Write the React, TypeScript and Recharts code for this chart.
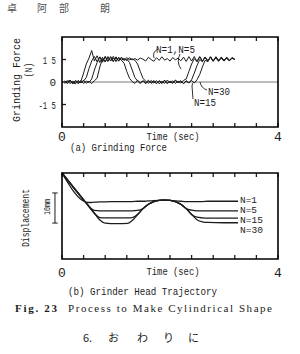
import React from "react";
import { LineChart, Line, XAxis, YAxis, ReferenceLine } from "recharts";

// shared axis ticks
const timeTicks = [0, 0.4, 0.8, 1.2, 1.6, 2, 2.4, 2.8, 3.2, 3.6, 4];
const forceTicks = [-15, 0, 15];

// (a) grinding force, sampled every 0.05 s
const forceTime = [
  0.05, 0.1, 0.15, 0.2, 0.25, 0.3, 0.35, 0.4,
  0.45, 0.5, 0.55, 0.6, 0.65, 0.7, 0.75, 0.8,
  0.85, 0.9, 0.95, 1.0, 1.05, 1.1, 1.15, 1.2,
  1.25, 1.3, 1.35, 1.4, 1.45, 1.5, 1.55, 1.6,
  1.65, 1.7, 1.75, 1.8, 1.85, 1.9, 1.95, 2.0,
  2.05, 2.1, 2.15, 2.2, 2.25, 2.3, 2.35, 2.4,
  2.45, 2.5, 2.55, 2.6, 2.65, 2.7, 2.75, 2.8,
  2.85, 2.9, 2.95, 3.0, 3.05, 3.1, 3.15, 3.2,
];
const forceN1 = [
  0.5, -1.0, 1.2, -0.6, 0.8, -1.2, 0.4, 6,
  12, 16, 21, 14, 17.5, 13, 16.5, 13.5,
  17, 14, 16, 13.8, 16.4, 14.5, 15.8, 14.2,
  16.2, 14.8, 15.6, 14.6, 16.0, 15.2, 14.0, 16.5,
  15.0, 13.8, 16.2, 14.4, 16.8, 14.6, 15.6, 13.9,
  16.3, 14.8, 15.9, 14.1, 16.6, 13.7, 16.9, 14.0,
  17.0, 13.5, 16.8, 13.8, 16.5, 14.2, 16.7, 13.9,
  16.2, 14.4, 16.0, 14.1, 16.3, 14.6, 15.8, 15.0,
];
const forceN5 = [
  -0.4, 0.9, -1.1, 0.6, -0.8, 1.1, -0.5, 0.7,
  3, 9, 14, 17, 13.5, 16.8, 14, 16.5,
  13.6, 17, 14.2, 16.1, 13.9, 16.6, 14.5, 16.2,
  14.8, 15.4, 14.5, 12, 7, 2.5, 0.5, -0.8,
  1.0, -0.6, 0.9, -1.2, 0.4, -0.9, 1.3, -0.5,
  0.8, -1.0, 0.6, -0.7, 1.1, 2, 7, 12,
  15.5, 13.8, 16.9, 14.1, 16.4, 13.7, 16.8, 14.3,
  16.1, 13.9, 16.5, 14.4, 15.9, 14.0, 16.2, 15.1,
];
const forceN15 = [
  0.8, -0.7, 0.5, -1.3, 1.0, -0.4, 0.9, -1.0,
  0.6, -0.3, 2, 8, 13, 16.5, 13.2, 17.2,
  14, 16.4, 13.5, 16.8, 14.3, 15.9, 14.6, 15.2,
  13, 8, 3, 0.6, -1.0, 0.8, -0.5, 1.2,
  -0.9, 0.4, -1.1, 0.9, -0.3, 1.0, -1.2, 0.6,
  -0.7, 1.3, -0.4, 0.8, -1.0, 0.5, -0.6, 1.5,
  6, 11, 15, 13.6, 16.7, 14.2, 16.4, 13.8,
  16.9, 14.5, 15.8, 13.9, 16.6, 14.3, 16.0, 14.9,
];
const forceN30 = [
  -0.9, 0.4, 1.1, -0.5, -1.2, 0.7, -0.3, 1.0,
  -0.8, 0.5, -1.1, 0.9, 2.5, 10, 15.5, 13.4,
  16.6, 14.1, 17.1, 13.7, 16.2, 14.6, 12.5, 7,
  2.5, 0.3, -0.9, 1.1, -0.5, 0.8, -1.2, 0.6,
  -0.4, 1.0, -0.8, 0.5, -1.1, 1.2, -0.6, 0.3,
  -0.9, 1.1, -0.4, 0.7, -1.2, 0.9, -0.5, 1.0,
  -0.7, 1.5, 5, 10, 14.5, 13.6, 16.8, 14.0,
  16.3, 13.8, 16.7, 14.4, 15.9, 14.2, 16.4, 15.0,
];

// (b) grinder head trajectory, displacement in mm (0 = start)
const trajTime = [0, 0.43, 0.5, 0.6, 0.7, 0.8, 1.0, 1.22, 1.3, 1.4, 1.5, 1.6, 1.7, 1.8, 1.9, 2.0, 2.1, 2.2, 2.3, 2.4, 2.5, 2.6, 2.7, 3.0, 3.26];
const trajN1 = [0, -9.4, -9.6, -9.5, -9.4, -9.4, -9.3, -9.3, -9.3, -9.2, -9.2, -9.1, -9.0, -8.9, -8.8, -8.9, -9.1, -9.2, -9.3, -9.3, -9.3, -9.3, -9.2, -9.2, -9.2];
const trajN5 = [0, -9.4, -10.9, -12.2, -12.3, -12.3, -12.3, -12.3, -12.3, -12.2, -11.6, -10.2, -9.3, -8.9, -8.8, -8.9, -9.3, -10.2, -11.6, -12.1, -12.3, -12.3, -12.3, -12.3, -12.3];
const trajN15 = [0, -9.4, -10.9, -13.1, -14.5, -14.6, -14.6, -14.6, -14.5, -13.5, -11.6, -10.2, -9.3, -8.9, -8.8, -8.9, -9.3, -10.2, -11.6, -13.5, -14.4, -14.6, -14.7, -14.7, -14.7];
const trajN30 = [0, -9.4, -10.9, -13.1, -15.3, -16.3, -16.5, -16.4, -15.5, -13.5, -11.6, -10.2, -9.3, -8.9, -8.8, -8.9, -9.3, -10.2, -11.6, -13.5, -15.2, -15.9, -16.1, -16.2, -16.2];

const forceData = forceTime.map((t, i) => ({ t, n1: forceN1[i], n5: forceN5[i], n15: forceN15[i], n30: forceN30[i] }));
const trajData = trajTime.map((t, i) => ({ t, n1: trajN1[i], n5: trajN5[i], n15: trajN15[i], n30: trajN30[i] }));

const INK = "#1c1c1c";
const MONO = "'Liberation Mono', 'DejaVu Sans Mono', monospace";
const SERIF = "'Liberation Serif', 'DejaVu Serif', serif";
const CJK = "'Noto Sans CJK JP', sans-serif";

const BottomTick = ({ x, y, payload, labelDy }: any) => {
  const v = payload.value;
  return (
    <g>
      <line x1={x} y1={y} x2={x} y2={y - 4} stroke={INK} strokeWidth={1.3} />
      {(v === 0 || v === 4) && (
        <text x={x} y={y + labelDy} textAnchor="middle" fontFamily={MONO} fontSize={13} fill={INK}>
          {v}
        </text>
      )}
    </g>
  );
};

const TopTick = ({ x, y }: any) => <line x1={x} y1={y} x2={x} y2={y + 4} stroke={INK} strokeWidth={1.3} />;

const LeftTick = ({ x, y, payload }: any) => {
  const v = payload.value;
  const label = v === 0 ? "0" : v < 0 ? "-1 5" : "1 5";
  return (
    <g>
      <line x1={x} y1={y} x2={x + 4} y2={y} stroke={INK} strokeWidth={1.3} />
      <text
        x={x - 6}
        y={y + 4}
        textAnchor="end"
        fontFamily={MONO}
        fontSize={11}
        fill={INK}
        {...(label.length > 1 ? { textLength: label.length * 4.4, lengthAdjust: "spacingAndGlyphs" } : {})}
      >
        {label}
      </text>
    </g>
  );
};

const RightTick = ({ x, y }: any) => <line x1={x} y1={y} x2={x - 4} y2={y} stroke={INK} strokeWidth={1.3} />;

const Tw = ({ x, y, w, size = 11, rotate = false, anchor = "start", children }: any) => (
  <text
    x={x}
    y={y}
    fontFamily={MONO}
    fontSize={size}
    fill={INK}
    textAnchor={anchor}
    textLength={w}
    lengthAdjust="spacingAndGlyphs"
    transform={rotate ? `rotate(-90 ${x} ${y})` : undefined}
  >
    {children}
  </text>
);

export default function App() {
  return (
    <div style={{ position: "absolute", left: 0, top: 0, width: 300, height: 354, background: "#fff", overflow: "hidden" }}>
      {/* (a) grinding force */}
      <div style={{ position: "absolute", left: 0, top: 0 }}>
        <LineChart width={300} height={160} data={forceData} margin={{ top: 36, right: 21, bottom: 32, left: 0 }}>
          <XAxis
            dataKey="t"
            type="number"
            domain={[0, 4]}
            ticks={timeTicks}
            interval={0}
            height={1}
            tickSize={0}
            tickMargin={0}
            axisLine={false}
            tickLine={false}
            tick={(p: any) => <BottomTick {...p} labelDy={14} />}
          />
          <XAxis
            xAxisId="top"
            orientation="top"
            dataKey="t"
            type="number"
            domain={[0, 4]}
            ticks={timeTicks}
            interval={0}
            height={1}
            tickSize={0}
            tickMargin={0}
            axisLine={false}
            tickLine={false}
            tick={TopTick}
          />
          <YAxis
            type="number"
            domain={[-30, 30]}
            ticks={forceTicks}
            interval={0}
            width={62}
            tickSize={0}
            tickMargin={0}
            axisLine={false}
            tickLine={false}
            tick={LeftTick}
          />
          <YAxis
            yAxisId="right"
            orientation="right"
            type="number"
            domain={[-30, 30]}
            ticks={forceTicks}
            interval={0}
            width={1}
            tickSize={0}
            tickMargin={0}
            axisLine={false}
            tickLine={false}
            tick={RightTick}
          />
          <ReferenceLine y={0} stroke="#555" strokeWidth={0.8} />
          <Line dataKey="n1" type="linear" stroke={INK} strokeWidth={1} dot={false} isAnimationActive={false} />
          <Line dataKey="n5" type="linear" stroke={INK} strokeWidth={1} dot={false} isAnimationActive={false} />
          <Line dataKey="n15" type="linear" stroke={INK} strokeWidth={1} dot={false} isAnimationActive={false} />
          <Line dataKey="n30" type="linear" stroke={INK} strokeWidth={1} dot={false} isAnimationActive={false} />
        </LineChart>
      </div>

      {/* (b) grinder head trajectory */}
      <div style={{ position: "absolute", left: 0, top: 150 }}>
        <LineChart width={300} height={140} data={trajData} margin={{ top: 22, right: 21, bottom: 30, left: 0 }}>
          <XAxis
            dataKey="t"
            type="number"
            domain={[0, 4]}
            ticks={timeTicks}
            interval={0}
            height={1}
            tickSize={0}
            tickMargin={0}
            axisLine={false}
            tickLine={false}
            tick={(p: any) => <BottomTick {...p} labelDy={18} />}
          />
          <XAxis
            xAxisId="top"
            orientation="top"
            dataKey="t"
            type="number"
            domain={[0, 4]}
            ticks={timeTicks}
            interval={0}
            height={1}
            tickSize={0}
            tickMargin={0}
            axisLine={false}
            tickLine={false}
            tick={TopTick}
          />
          <YAxis type="number" domain={[-28, 0]} width={62} axisLine={false} tickLine={false} tick={false} />
          <YAxis yAxisId="right" orientation="right" type="number" domain={[-28, 0]} width={1} axisLine={false} tickLine={false} tick={false} />
          {/* 10 mm scale bar */}
          <ReferenceLine ifOverflow="visible" segment={[{ x: -0.13, y: -6.5 }, { x: -0.13, y: -16.3 }]} stroke={INK} />
          <ReferenceLine ifOverflow="visible" segment={[{ x: -0.18, y: -6.5 }, { x: -0.08, y: -6.5 }]} stroke={INK} />
          <ReferenceLine ifOverflow="visible" segment={[{ x: -0.18, y: -16.3 }, { x: -0.08, y: -16.3 }]} stroke={INK} />
          <Line dataKey="n1" type="monotone" stroke={INK} strokeWidth={1.3} dot={false} isAnimationActive={false} />
          <Line dataKey="n5" type="monotone" stroke={INK} strokeWidth={1.3} dot={false} isAnimationActive={false} />
          <Line dataKey="n15" type="monotone" stroke={INK} strokeWidth={1.3} dot={false} isAnimationActive={false} />
          <Line dataKey="n30" type="monotone" stroke={INK} strokeWidth={1.3} dot={false} isAnimationActive={false} />
        </LineChart>
      </div>

      {/* frames, texts and annotations */}
      <svg width={300} height={354} style={{ position: "absolute", left: 0, top: 0, pointerEvents: "none" }}>
        <path d="M62,37 H278 V127 H62 Z" fill="none" stroke="#000" strokeWidth={1.6} />
        <path d="M62,173 H278 V259 H62 Z" fill="none" stroke="#000" strokeWidth={1.6} />

        <g fontFamily={CJK} fontSize={10} fill="#555">
          <text x={7} y={12}>卓</text>
          <text x={37} y={12}>阿</text>
          <text x={59} y={12}>部</text>
          <text x={100} y={12}>朗</text>
        </g>

        <Tw x={20} y={80} w={84} rotate anchor="middle">Grinding Force</Tw>
        <Tw x={32} y={70} w={15} rotate anchor="middle">(N)</Tw>
        <Tw x={173} y={140} w={53} anchor="middle">Time (sec)</Tw>
        <Tw x={70} y={151} w={97}>(a) Grinding Force</Tw>

        <Tw x={156} y={53} w={39}>N=1,N=5</Tw>
        <path d="M158,49 Q152,52 154,58" fill="none" stroke={INK} strokeWidth={0.9} />
        <path d="M180,54 Q176,62 181,69" fill="none" stroke={INK} strokeWidth={0.9} />
        <Tw x={208} y={95} w={22}>N=30</Tw>
        <path d="M207,90 Q201,88 200,82" fill="none" stroke={INK} strokeWidth={0.9} />
        <Tw x={194} y={106} w={22}>N=15</Tw>
        <path d="M193,99 L192,86 Q192,83 194,82" fill="none" stroke={INK} strokeWidth={0.9} />

        <Tw x={29} y={218} w={58} rotate anchor="middle">Displacement</Tw>
        <Tw x={50} y={207} w={16} size={9} rotate anchor="middle">10mm</Tw>
        <Tw x={240} y={203} w={17} size={9.5}>N=1</Tw>
        <Tw x={240} y={213} w={17} size={9.5}>N=5</Tw>
        <Tw x={240} y={223} w={23} size={9.5}>N=15</Tw>
        <Tw x={240} y={233} w={23} size={9.5}>N=30</Tw>
        <Tw x={173} y={275} w={53} anchor="middle">Time (sec)</Tw>
        <Tw x={68} y={295} w={149}>(b) Grinder Head Trajectory</Tw>

        <text x={15} y={312} fontFamily={SERIF} fontWeight="bold" fontSize={11} fill={INK} textLength={42}>
          Fig. 23
        </text>
        <text x={68} y={312} fontFamily={SERIF} fontSize={11} fill={INK} textLength={204}>
          Process to Make Cylindrical Shape
        </text>

        <g fontFamily={CJK} fontSize={11} fill={INK}>
          <text x={83} y={342}>6.</text>
          <text x={108} y={342}>お</text>
          <text x={137} y={342}>わ</text>
          <text x={163} y={342}>り</text>
          <text x={188} y={342}>に</text>
        </g>
      </svg>
    </div>
  );
}
